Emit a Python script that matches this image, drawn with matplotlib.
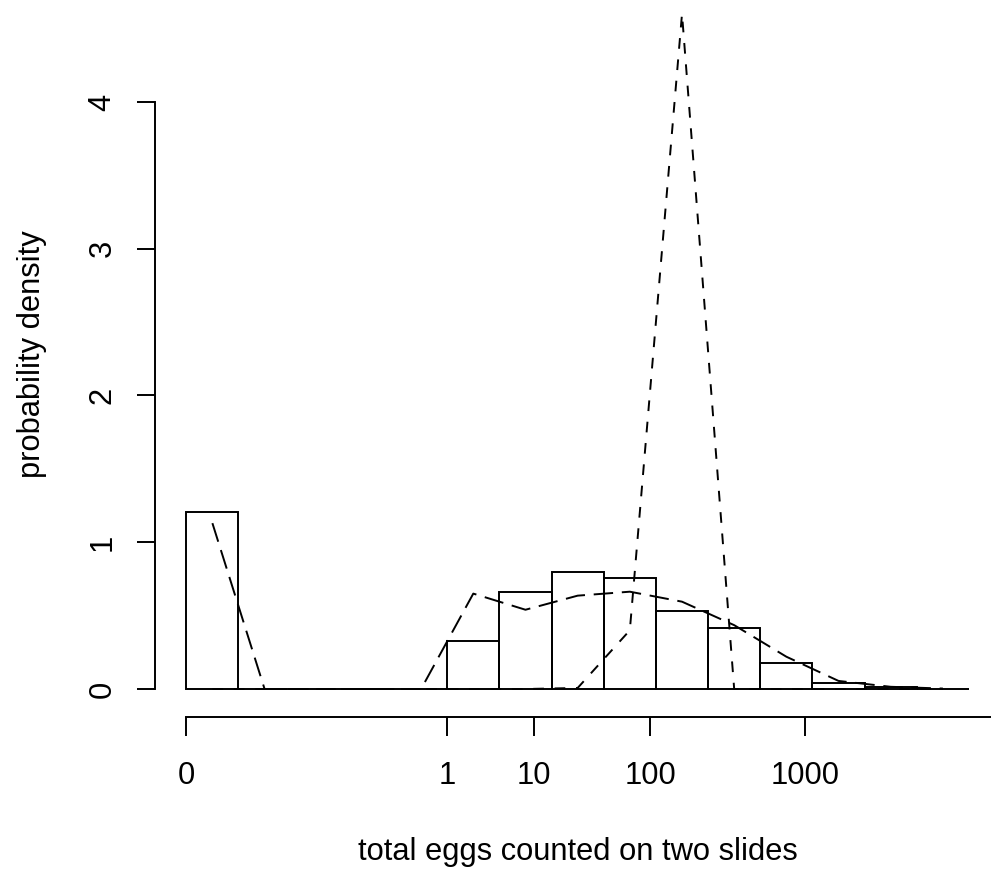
"""Histogram of egg counts on an eighth-root scale, with two fitted densities."""
import numpy as np
import matplotlib
matplotlib.use('Agg')
import matplotlib.pyplot as plt

plt.rcParams['font.family'] = ['Liberation Sans', 'DejaVu Sans']

# x is on the eighth-root scale: count ** (1/8)
bin_edges = [0.0, 0.2, 0.4, 0.6, 0.8, 1.0, 1.2, 1.4, 1.6, 1.8, 2.0,
             2.2, 2.4, 2.6, 2.8, 3.0]
bar_density = [1.204, 0.0, 0.0, 0.0, 0.0, 0.329, 0.663, 0.800, 0.754,
               0.534, 0.414, 0.180, 0.040, 0.014, 0.003]

# fitted densities evaluated at bin midpoints
mids = [0.1, 0.3, 0.5, 0.7, 0.9, 1.1, 1.3, 1.5, 1.7, 1.9, 2.1, 2.3, 2.5, 2.7, 2.9]
fit_long = [1.13, 0.0, 0.0, 0.0, 0.0, 0.65, 0.54, 0.636, 0.663, 0.595,
            0.435, 0.22, 0.055, 0.015, 0.003]
fit_short = [0.0, 0.0, 0.0, 0.0, 0.0, 0.0, 0.0, 0.007, 0.40, 4.60,
             0.0, 0.0, 0.0, 0.0, 0.0]

count_ticks = [0, 1, 10, 100, 1000, 10000]
count_labels = ['0', '1', '10', '100', '1000', '']
y_ticks = [0, 1, 2, 3, 4]

FS = 22.2
LW = 1.4

fig = plt.figure(figsize=(9.91, 8.77), dpi=100)
ax = fig.add_axes([155 / 991, 160 / 877, 845.3 / 991, 726 / 877])

edges = np.array(bin_edges)
ax.bar(edges[:-1], bar_density, width=np.diff(edges), align='edge',
       fill=False, edgecolor='black', linewidth=LW)
ax.plot(mids, fit_long, color='black', linewidth=LW, dashes=(10, 4.5))
ax.plot(mids, fit_short, color='black', linewidth=LW, dashes=(5.5, 5.5))

ax.spines[['top', 'right']].set_visible(False)
ax.spines['left'].set_bounds(0, 4)
ax.spines['bottom'].set_bounds(0, np.array(count_ticks[-1]) ** 0.125)
for s in ('left', 'bottom'):
    ax.spines[s].set_linewidth(LW)

ax.set_xticks(np.array(count_ticks, dtype=float) ** 0.125)
ax.set_xticklabels(count_labels, fontsize=FS)
ax.set_yticks(y_ticks)
ax.set_yticklabels([str(v) for v in y_ticks], fontsize=FS, rotation=90,
                   va='center')
ax.tick_params(axis='x', direction='out', length=13.5, width=LW, pad=18)
ax.tick_params(axis='y', direction='out', length=13, width=LW, pad=14)

# limits after ticks, otherwise the off-page 10000 tick widens the view
ax.set_xlim(-0.12, 3.12)
ax.set_ylim(-0.1908, 4.756)

ax.set_xlabel('total eggs counted on two slides', fontsize=FS)
ax.xaxis.set_label_coords(0.5, -0.186)
ax.xaxis.label.set_va('center')
ax.set_ylabel('probability density', fontsize=FS)
ax.yaxis.set_label_coords(-0.1455, 0.5)
ax.yaxis.label.set_va('center')
ax.yaxis.label.set_ha('center')

fig.savefig('out.png', dpi=100)
